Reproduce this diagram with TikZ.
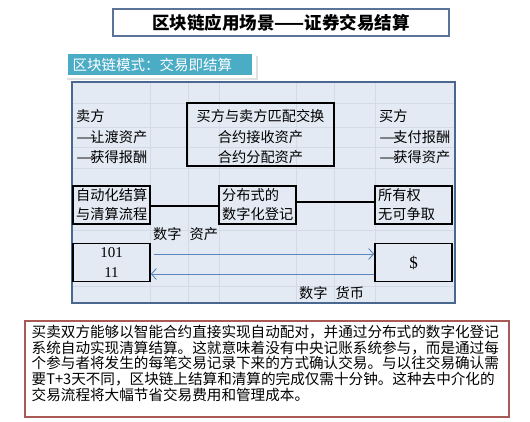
\documentclass[tikz,border=0pt]{standalone}
\usepackage{fontspec}
\setmainfont{Noto Sans CJK SC}
\newfontfamily\numfont{Liberation Serif}
\usetikzlibrary{calc, positioning}
\usetikzlibrary{arrows.meta}

\definecolor{panelfill}{HTML}{E4EAF4}
\definecolor{panelline}{HTML}{4A6790}
\definecolor{gridline}{HTML}{D3DAE6}
\definecolor{tealtag}{HTML}{4BACC6}
\definecolor{titleline}{HTML}{5B7398}
\definecolor{flowline}{HTML}{5B87BE}
\definecolor{noteline}{HTML}{A85A57}

% full-width dash as in the list items
\newcommand{\widedash}{\makebox[1em][l]{\scalebox{1.75}[1]{—}}}

\tikzset{
  cell/.style={draw=black, line width=1.6pt, inner sep=0pt, minimum width=77pt, minimum height=38pt},
  celltext/.style={anchor=west, inner sep=0pt, font=\fontsize{14.2}{19}\selectfont, align=left},
  plaintext/.style={anchor=west, inner sep=0pt, font=\fontsize{14.2}{20.5}\selectfont, align=left},
  flow/.style={draw=flowline, line width=0.9pt, -{Straight Barb[length=5pt,width=11pt,line width=0.9pt]}},
  link/.style={line width=2.6pt, black}
}

\begin{document}
\begin{tikzpicture}[x=1pt, y=-1pt]
\useasboundingbox (0,0) rectangle (530,421);
\fill[white] (0,0) rectangle (530,421);

% Title
\node[draw=titleline, line width=1.6pt, minimum width=336pt, minimum height=27pt,
  inner sep=0pt, font=\fontsize{17.5}{20}\selectfont\bfseries] (title) at (281,22.5)
  {区块链应用场景——证券交易结算};

% Teal tag with its shadow
\fill[black!12] (67,56) rectangle (258,80);
\fill[white] (65,53) rectangle (255.5,77.5);
\fill[tealtag] (67.7,54.3) rectangle (251.7,74.8);
\node[anchor=west, inner sep=0pt, text=white, font=\fontsize{14.5}{16}\selectfont]
  (tag) at (72.5,64.5) {区块链模式：交易即结算};

% Panel and its faint grid
\fill[panelfill] (72,82) rectangle (455,303);
\foreach \gx in {150,188,219,296,334,375}
  \draw[gridline, line width=0.5pt] (\gx,82) -- (\gx,303);
\foreach \gy in {103,127,147,168,230,286}
  \draw[gridline, line width=0.5pt] (72,\gy) -- (455,\gy);
\draw[panelline, line width=1.1pt] (72,82) rectangle (455,303);

% Top row: seller, matching, buyer
\node[plaintext] (seller) at (76,137) {卖方\\\widedash 让渡资产\\\widedash 获得报酬};
\node[draw=black, line width=1.6pt, minimum width=147pt, minimum height=63pt,
  inner sep=0pt] (match) at (260.5,134.5) {};
\node[inner sep=0pt, font=\fontsize{14.2}{20.5}\selectfont, align=center]
  (matchtext) at (260.5,137) {买方与卖方匹配交换\\合约接收资产\\合约分配资产};
\node[plaintext] (buyer) at (379,137) {买方\\\widedash 支付报酬\\\widedash 获得资产};

% Middle row: settlement, ledger, ownership
\node[cell] (settle) at (111.5,205) {};
\node[celltext] at (76,205) {自动化结算\\与清算流程};
\node[cell] (ledger) at (257.5,205) {};
\node[celltext] at (222,205) {分布式的\\数字化登记};
\node[cell] (owner) at (413.5,205) {};
\node[celltext] at (378,205) {所有权\\无可争取};
\draw[link] ([yshift=-1pt]settle.east) -- ([yshift=-1pt]ledger.west);
\draw[link] ([yshift=3pt]ledger.east) -- ([yshift=3pt]owner.west);

% Bottom row: digital asset and digital currency
\node[plaintext] (assetlabel) at (153,234) {数字\hspace{8pt}资产};
\node[cell, font=\numfont\fontsize{15}{20}\selectfont, align=center] (digit) at (111.5,262.5) {101\\11};
\node[cell, font=\numfont\fontsize{17}{20}\selectfont] (coin) at (413.5,262.5) {\$};
\draw[flow] ([xshift=3pt,yshift=8.5pt]digit.east) -- ([yshift=8.5pt]coin.west);
\draw[flow] ([yshift=-11.5pt]coin.west) -- ([yshift=-11.5pt]digit.east);
\node[plaintext] (cashlabel) at (299,293) {数字\hspace{8pt}货币};

% Note below
\node[draw=noteline, line width=1.5pt, minimum width=484pt, minimum height=96pt,
  inner sep=0pt] (notebox) at (267,369) {};
\node[anchor=north west, inner sep=0pt, align=left,
  font=\fontsize{14.6}{15.7}\selectfont] (note) at (31.5,325)
  {买卖双方能够以智能合约直接实现自动配对，并通过分布式的数字化登记\\
   系统自动实现清算结算。这就意味着没有中央记账系统参与，而是通过每\\
   个参与者将发生的每笔交易记录下来的方式确认交易。与以往交易确认需\\
   要T+3天不同，区块链上结算和清算的完成仅需十分钟。这种去中介化的\\
   交易流程将大幅节省交易费用和管理成本。};
\end{tikzpicture}
\end{document}
